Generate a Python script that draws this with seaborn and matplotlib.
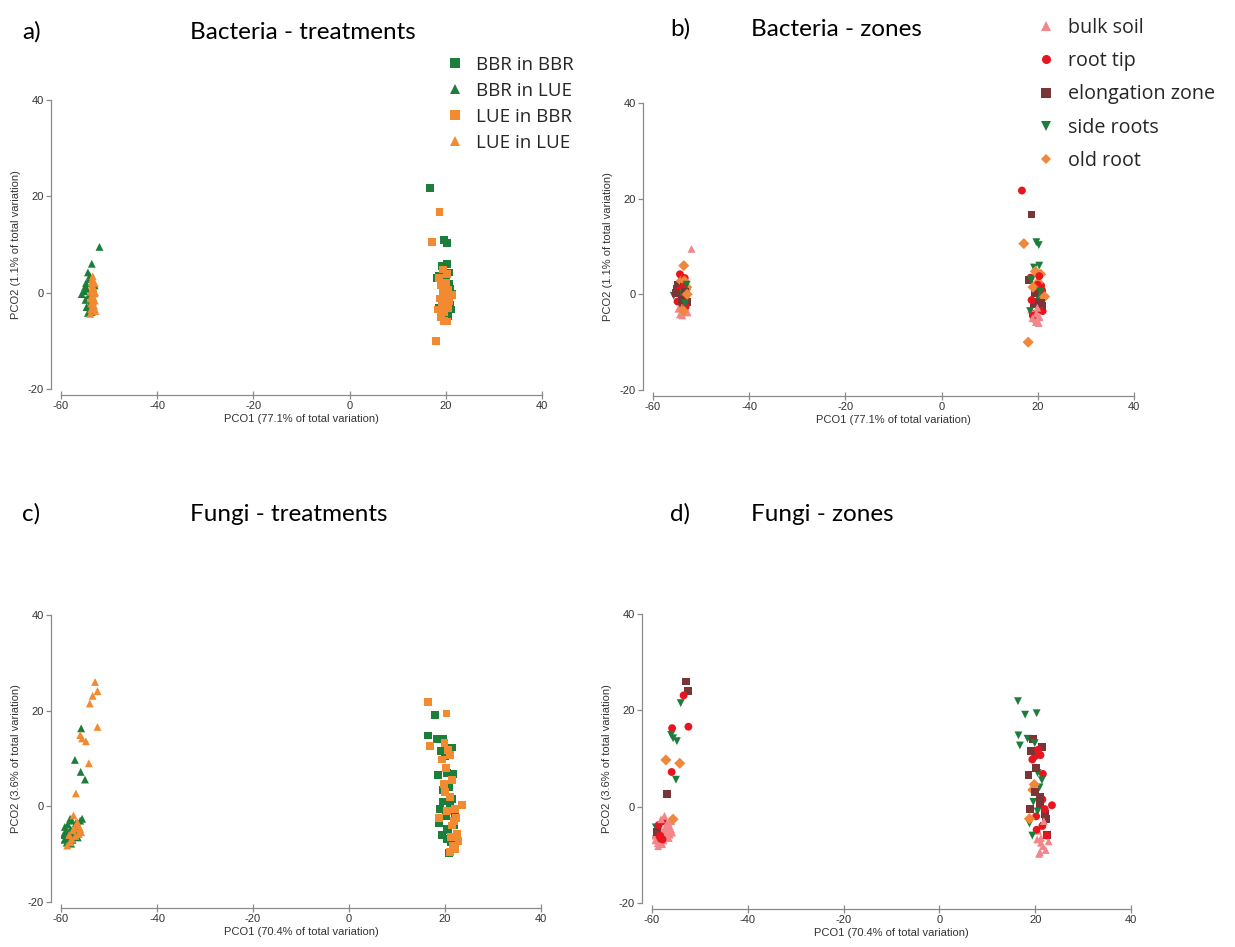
import numpy as np
import pandas as pd
import matplotlib
matplotlib.use("Agg")
import matplotlib.pyplot as plt
import seaborn as sns
from matplotlib.lines import Line2D

sns.set_theme(style="ticks")
plt.rcParams['font.family'] = ['Liberation Sans', 'DejaVu Sans']
plt.rcParams['axes.unicode_minus'] = False

# ---------------- data ----------------
treatments = ["BBR in BBR", "BBR in LUE", "LUE in BBR", "LUE in LUE"]
zones = ["bulk soil", "root tip", "elongation zone", "side roots", "old root"]
zone_code = {"B": "bulk soil", "T": "root tip", "E": "elongation zone",
             "S": "side roots", "O": "old root"}

x_ticks = [-60, -40, -20, 0, 20, 40]
y_ticks = [-20, 0, 20, 40]

# Bacteria
bac_bbr_bbr_x = [16.7, 19.7, 20.2, 20.3, 19.2, 18.5, 18.2, 20.7, 19.4, 20.5,
                 21.0, 20.4, 19.6, 20.8, 19.0, 20.1, 21.2, 18.6, 19.9, 20.6,
                 20.0, 20.9, 19.3]
bac_bbr_bbr_y = [21.7, 10.9, 10.3, 6.0, 5.6, 3.5, 3.0, 1.8, 0.5, -1.0,
                 -3.5, -4.8, -5.2, -2.5, -4.0, 2.5, -0.3, -3.2, -5.6, 4.2,
                 -2.0, 0.8, -1.5]
bac_bbr_bbr_z = ["T", "S", "S", "S", "S", "T", "E", "T", "E", "O",
                 "T", "B", "B", "E", "E", "O", "O", "B", "B", "O",
                 "S", "T", "E"]

bac_lue_bbr_x = [18.7, 17.1, 18.0, 19.5, 18.6, 20.3, 19.8, 20.1, 21.4, 19.2,
                 18.4, 19.0, 20.4, 19.6, 20.2, 18.9, 20.7, 19.3, 20.0, 19.7,
                 19.0, 19.9, 20.5, 18.7]
bac_lue_bbr_y = [16.7, 10.6, -10.0, 4.8, 3.0, 3.8, 1.0, -0.8, -0.5, -2.0,
                 -3.5, -4.5, -3.2, -5.8, -6.0, -5.0, -1.8, 0.2, 2.0, -4.0,
                 1.5, -2.8, 0.6, -1.2]
bac_lue_bbr_z = ["E", "O", "O", "O", "S", "T", "S", "S", "O", "E",
                 "S", "T", "T", "B", "B", "B", "E", "E", "T", "B",
                 "O", "B", "S", "T"]

bac_bbr_lue_x = [-52.0, -53.6, -54.4, -54.0, -54.8, -55.0, -55.7, -54.2, -54.6, -54.9,
                 -54.0, -53.2, -54.4, -53.8, -53.3, -54.7, -53.0, -55.2, -53.6, -54.1]
bac_bbr_lue_y = [9.5, 6.0, 4.2, 3.5, 2.0, 1.2, -0.3, -0.5, 0.8, -1.5,
                 -2.3, -2.8, -4.2, -3.5, -1.0, -3.0, 1.5, 0.3, -4.0, 2.8]
bac_bbr_lue_z = ["B", "O", "T", "T", "E", "E", "S", "S", "T", "T",
                 "E", "S", "B", "B", "O", "B", "O", "E", "S", "O"]

bac_lue_lue_x = [-53.4, -53.6, -53.2, -53.8, -53.5, -53.0, -53.7, -52.8, -53.3, -53.9,
                 -53.5, -53.1, -53.6, -53.2, -53.9, -53.4, -52.9, -53.7, -53.0, -53.3]
bac_lue_lue_y = [3.4, 2.2, 1.0, 0.2, -0.8, -1.6, -2.2, -3.8, -3.0, -4.4,
                 2.8, -0.2, 1.6, -2.6, -1.2, 0.6, 0.0, -3.4, 2.0, -1.9]
bac_lue_lue_z = ["T", "E", "O", "S", "T", "E", "B", "B", "B", "B",
                 "O", "S", "T", "T", "E", "E", "O", "O", "S", "S"]

# Fungi
fun_bbr_bbr_x = [17.9, 16.5, 18.4, 21.4, 19.6, 20.0, 18.6, 20.5, 21.6, 19.5,
                 21.5, 19.0, 18.8, 20.2, 21.8, 20.8, 20.4, 21.2, 20.6, 22.0,
                 19.2, 20.9, 19.6, 20.3, 19.4, 21.0]
fun_bbr_bbr_y = [19.1, 14.8, 14.1, 12.3, 14.1, 10.5, 6.6, 7.0, 6.8, 3.5,
                 1.5, -0.5, -3.5, -2.0, -4.0, -9.8, -6.8, -7.5, -5.0, -1.5,
                 11.5, 4.0, 1.0, -4.8, -6.0, 0.5]
fun_bbr_bbr_z = ["S", "S", "S", "E", "E", "T", "E", "S", "T", "O",
                 "T", "E", "S", "T", "S", "B", "B", "B", "B", "E",
                 "E", "S", "S", "T", "S", "E"]

fun_lue_bbr_x = [16.4, 20.3, 16.8, 19.9, 19.4, 21.1, 20.2, 19.8, 21.0, 23.5,
                 20.5, 18.8, 22.3, 21.5, 22.5, 21.2, 22.8, 21.6, 22.2, 21.0,
                 20.6, 21.4, 20.0, 22.0, 21.8, 22.4]
fun_lue_bbr_y = [21.9, 19.4, 12.7, 13.2, 9.8, 10.7, 8.0, 4.6, 2.0, 0.3,
                 -1.0, -2.5, -2.5, -4.0, -5.8, -6.5, -7.2, -8.2, -9.0, -9.5,
                 11.8, 5.5, 3.0, -0.5, -3.0, -6.0]
fun_lue_bbr_z = ["S", "S", "S", "S", "T", "T", "E", "O", "E", "T",
                 "S", "O", "E", "T", "E", "B", "B", "B", "B", "B",
                 "T", "S", "E", "T", "B", "T"]

fun_bbr_lue_x = [-55.8, -57.1, -55.9, -55.0, -59.2, -58.4, -58.2, -57.7, -59.5, -58.8,
                 -57.6, -56.8, -56.0, -57.0, -58.0, -56.5, -59.0, -55.6, -57.3, -58.6,
                 -58.5, -57.9, -56.9, -59.3, -57.5, -58.1]
fun_bbr_lue_y = [16.3, 9.7, 7.2, 5.6, -4.3, -5.5, -6.9, -3.0, -6.0, -7.6,
                 -7.0, -5.8, -3.0, -4.2, -4.8, -6.5, -5.2, -2.6, -5.5, -3.8,
                 -6.5, -7.8, -3.5, -7.0, -5.9, -2.6]
fun_bbr_lue_z = ["T", "O", "T", "S", "S", "E", "T", "T", "B", "B",
                 "B", "B", "B", "B", "B", "B", "E", "O", "B", "T",
                 "T", "B", "B", "B", "B", "B"]

fun_lue_lue_x = [-52.9, -52.4, -53.4, -54.0, -52.4, -56.0, -55.6, -54.8, -54.2, -56.9,
                 -57.4, -56.0, -58.7, -57.5, -58.0, -56.4, -57.0, -55.8, -56.6, -58.3,
                 -57.2, -56.3, -57.8]
fun_lue_lue_y = [26.0, 24.1, 23.1, 21.5, 16.6, 14.9, 14.2, 13.6, 9.0, 2.7,
                 -1.9, -4.7, -8.2, -5.0, -7.5, -4.0, -6.2, -5.4, -3.3, -6.0,
                 -4.5, -5.8, -6.8]
fun_lue_lue_z = ["E", "E", "T", "S", "T", "S", "S", "S", "O", "E",
                 "B", "B", "B", "B", "B", "B", "B", "B", "B", "T",
                 "B", "B", "T"]

# ---------------- styling ----------------
treat_palette = {"BBR in BBR": "#1b7f3b", "BBR in LUE": "#1b7f3b",
                 "LUE in BBR": "#f28a32", "LUE in LUE": "#f28a32"}
treat_markers = {"BBR in BBR": "s", "BBR in LUE": "^",
                 "LUE in BBR": "s", "LUE in LUE": "^"}
zone_palette = {"bulk soil": "#f2868a", "root tip": "#e8141e",
                "elongation zone": "#7a3636", "side roots": "#1b7f3b",
                "old root": "#f0873a"}
zone_markers = {"bulk soil": "^", "root tip": "o", "elongation zone": "s",
                "side roots": "v", "old root": "D"}


def build(groups):
    frames = []
    for name, xs, ys, zs in groups:
        frames.append(pd.DataFrame({"PCO1": xs, "PCO2": ys,
                                    "treatment": name,
                                    "zone": [zone_code[z] for z in zs]}))
    return pd.concat(frames, ignore_index=True)


bac = build([("BBR in BBR", bac_bbr_bbr_x, bac_bbr_bbr_y, bac_bbr_bbr_z),
             ("BBR in LUE", bac_bbr_lue_x, bac_bbr_lue_y, bac_bbr_lue_z),
             ("LUE in BBR", bac_lue_bbr_x, bac_lue_bbr_y, bac_lue_bbr_z),
             ("LUE in LUE", bac_lue_lue_x, bac_lue_lue_y, bac_lue_lue_z)])
fun = build([("BBR in BBR", fun_bbr_bbr_x, fun_bbr_bbr_y, fun_bbr_bbr_z),
             ("BBR in LUE", fun_bbr_lue_x, fun_bbr_lue_y, fun_bbr_lue_z),
             ("LUE in BBR", fun_lue_bbr_x, fun_lue_bbr_y, fun_lue_bbr_z),
             ("LUE in LUE", fun_lue_lue_x, fun_lue_lue_y, fun_lue_lue_z)])

W, H = 1235, 947
fig = plt.figure(figsize=(W / 100, H / 100), dpi=100)


def px_axes(l, r, t, b):
    return fig.add_axes([l / W, 1 - b / H, (r - l) / W, (b - t) / H])


axis_col = "#8a8a8a"
text_col = "#333333"


def style_axes(ax, xlabel, ylabel):
    ax.set_xlim(-60, 40)
    ax.set_ylim(-20, 40)
    ax.set_xticks(x_ticks)
    ax.set_yticks(y_ticks)
    ax.spines["top"].set_visible(False)
    ax.spines["right"].set_visible(False)
    ax.spines["left"].set_position(("outward", 7.2))
    ax.spines["bottom"].set_position(("outward", 4.3))
    for s in ["left", "bottom"]:
        ax.spines[s].set_color(axis_col)
        ax.spines[s].set_linewidth(0.9)
    ax.tick_params(axis="x", direction="inout", length=5.5, width=0.9,
                   color=axis_col, labelsize=8, labelcolor=text_col, pad=1.5)
    ax.tick_params(axis="y", direction="out", length=3.6, width=0.9,
                   color=axis_col, labelsize=8, labelcolor=text_col, pad=1.5)
    ax.set_xlabel(xlabel, fontsize=8, color=text_col, labelpad=2)
    ax.set_ylabel(ylabel, fontsize=8, color=text_col, labelpad=5)
    ax.set_facecolor("white")


def treat_plot(ax, df):
    sns.scatterplot(data=df, x="PCO1", y="PCO2", hue="treatment", style="treatment",
                    hue_order=treatments, style_order=treatments,
                    palette=treat_palette, markers=treat_markers,
                    s=32, linewidth=0, legend=False, ax=ax)


def zone_plot(ax, df):
    sns.scatterplot(data=df, x="PCO1", y="PCO2", hue="zone", style="zone",
                    hue_order=zones, style_order=zones,
                    palette=zone_palette, markers=zone_markers,
                    s=32, linewidth=0, legend=False, ax=ax)


ax_a = px_axes(61, 542, 100, 389)
ax_b = px_axes(653, 1134, 103, 390)
ax_c = px_axes(61, 541, 615, 902)
ax_d = px_axes(652, 1131, 614, 903)

treat_plot(ax_a, bac)
zone_plot(ax_b, bac)
treat_plot(ax_c, fun)
zone_plot(ax_d, fun)

style_axes(ax_a, "PCO1 (77.1% of total variation)", "PCO2 (1.1% of total variation)")
style_axes(ax_b, "PCO1 (77.1% of total variation)", "PCO2 (1.1% of total variation)")
style_axes(ax_c, "PCO1 (70.4% of total variation)", "PCO2 (3.6% of total variation)")
style_axes(ax_d, "PCO1 (70.4% of total variation)", "PCO2 (3.6% of total variation)")

# titles
tfont = dict(fontfamily=["Lato", "DejaVu Sans"], fontsize=17.5, color="black", va="baseline")
fig.text(22 / W, 1 - 39 / H, "a)", **tfont)
fig.text(190 / W, 1 - 39 / H, "Bacteria - treatments", **tfont)
fig.text(670 / W, 1 - 36 / H, "b)", **tfont)
fig.text(751 / W, 1 - 36 / H, "Bacteria - zones", **tfont)
fig.text(22 / W, 1 - 521 / H, "c)", **tfont)
fig.text(190 / W, 1 - 521 / H, "Fungi - treatments", **tfont)
fig.text(670 / W, 1 - 521 / H, "d)", **tfont)
fig.text(751 / W, 1 - 521 / H, "Fungi - zones", **tfont)

# legends
h_treat = [Line2D([], [], linestyle="none", marker=treat_markers[t], color=treat_palette[t],
                  markersize=6.5, markeredgewidth=0) for t in treatments]
leg_a = fig.legend(h_treat, treatments, loc="upper left",
                   bbox_to_anchor=(446 / W, 1 - 56 / H), frameon=False,
                   prop={"family": ["Open Sans", "DejaVu Sans"], "size": 13.5},
                   handlelength=1.0, handletextpad=0.62, labelspacing=0.42,
                   borderpad=0, borderaxespad=0)
h_zone = [Line2D([], [], linestyle="none", marker=zone_markers[z], color=zone_palette[z],
                 markersize=6.5 if zone_markers[z] != "D" else 5.5, markeredgewidth=0)
          for z in zones]
leg_b = fig.legend(h_zone, zones, loc="upper left",
                   bbox_to_anchor=(1036 / W, 1 - 18 / H), frameon=False,
                   prop={"family": ["Open Sans", "DejaVu Sans"], "size": 14.2},
                   handlelength=1.0, handletextpad=0.6, labelspacing=0.67,
                   borderpad=0, borderaxespad=0)

fig.savefig("out.png", dpi=100, facecolor="white")
